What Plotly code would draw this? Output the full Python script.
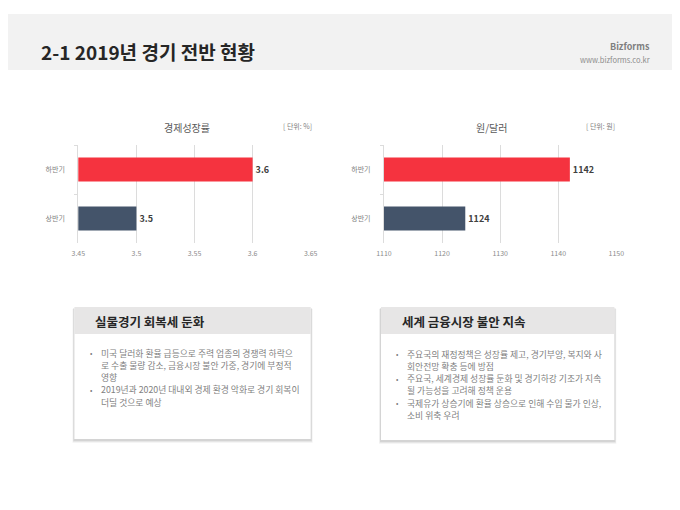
import plotly.graph_objects as go

W, H = 680, 510
FONT = "Noto Sans CJK KR"

# data
periods = ["상반기", "하반기"]
growth = [3.5, 3.6]
won_dollar = [1124, 1142]
bar_colors = ["#44546a", "#f5333f"]

growth_ticks = [3.45, 3.5, 3.55, 3.6, 3.65]
fx_ticks = [1110, 1120, 1130, 1140, 1150]

page_title = "2-1 2019년 경기 전반 현황"
chart_titles = ["경제성장률", "원/달러"]
chart_units = ["[ 단위: %]", "[ 단위: 원]"]

box_titles = ["실물경기 회복세 둔화", "세계 금융시장 불안 지속"]
box_bullets = [
    [
        ["미국 달러화 환율 급등으로 주력 업종의 경쟁력 하락으",
         "로 수출 물량 감소, 금융시장 불안 가중, 경기에 부정적",
         "영향"],
        ["2019년과 2020년 대내외 경제 환경 악화로 경기 회복이",
         "더딜 것으로 예상"],
    ],
    [
        ["주요국의 재정정책은 성장률 제고, 경기부양, 복지와 사",
         "회안전망 확충 등에 방점"],
        ["주요국, 세계경제 성장률 둔화 및 경기하강 기조가 지속",
         "될 가능성을 고려해 정책 운용"],
        ["국제유가 상승기에 환율 상승으로 인해 수입 물가 인상,",
         "소비 위축 우려"],
    ],
]


def px(x):
    return x / W


def py(y):
    return 1 - y / H


fig = go.Figure()

fig.add_trace(go.Bar(
    x=growth, y=periods, orientation="h", width=0.49,
    marker=dict(color=bar_colors, line=dict(width=0)),
    text=[str(v) for v in growth], textposition="outside",
    textfont=dict(family=FONT, size=9, color="#404040", weight="bold"),
    cliponaxis=False, xaxis="x", yaxis="y", hoverinfo="skip",
))
fig.add_trace(go.Bar(
    x=won_dollar, y=periods, orientation="h", width=0.49,
    marker=dict(color=bar_colors, line=dict(width=0)),
    text=[str(v) for v in won_dollar], textposition="outside",
    textfont=dict(family=FONT, size=9, color="#404040", weight="bold"),
    cliponaxis=False, xaxis="x2", yaxis="y2", hoverinfo="skip",
))

xcommon = dict(
    showgrid=True, gridcolor="#dcdcdc", gridwidth=1, zeroline=False,
    showline=False, ticks="", fixedrange=True, ticklabelstandoff=5,
    tickfont=dict(family=FONT, size=7, color="#8c8c8c"),
)
ycommon = dict(
    showgrid=False, zeroline=False, showline=True, linecolor="#dcdcdc",
    ticks="outside", tickson="boundaries", ticklen=3, tickcolor="#dcdcdc",
    ticklabelstandoff=11, fixedrange=True,
    categoryorder="array", categoryarray=periods,
    tickfont=dict(family=FONT, size=7, color="#7f7f7f"),
)

fig.update_layout(
    width=W, height=H, autosize=False,
    margin=dict(l=0, r=0, t=0, b=0),
    paper_bgcolor="white", plot_bgcolor="white",
    showlegend=False,
    font=dict(family=FONT),
    xaxis=dict(xcommon, domain=[px(72), px(310)], range=[3.45, 3.65],
               tickvals=growth_ticks, ticktext=[f"{t:g}" for t in growth_ticks],
               anchor="y"),
    yaxis=dict(ycommon, domain=[py(243), py(145)], anchor="x"),
    xaxis2=dict(xcommon, domain=[px(385), px(623)], range=[1110, 1150],
                tickvals=fx_ticks, anchor="y2"),
    yaxis2=dict(ycommon, domain=[py(243), py(145)], anchor="x2"),
)

shapes = [
    dict(type="rect", xref="paper", yref="paper", x0=0, x1=1,
         y0=py(70), y1=py(14), fillcolor="#f2f2f2", line=dict(width=0),
         layer="below"),
]
annotations = [
    dict(text=f"<b>{page_title}</b>", x=px(32), y=py(52), xanchor="left",
         font=dict(size=19, color="#262626")),
    dict(text="<b>Bizforms</b>", x=px(660), y=py(46), xanchor="right",
         font=dict(size=9, color="#7f7f7f")),
    dict(text="www.bizforms.co.kr", x=px(660), y=py(59), xanchor="right",
         font=dict(size=7.5, color="#8c8c8c")),
]

# chart titles and units
for title, unit, tx, ux in zip(chart_titles, chart_units, [183, 496], [296, 607]):
    annotations.append(dict(text=title, x=px(tx), y=py(127), xanchor="center",
                            font=dict(size=10, color="#595959")))
    annotations.append(dict(text=unit, x=px(ux), y=py(126), xanchor="center",
                            font=dict(size=7, color="#7f7f7f")))

# text boxes
boxes = [(68, 310, 307, 439), (382, 621, 307, 440)]
line_starts = [353, 354]
for (x0, x1, y0, y1), title, bullets, ly in zip(boxes, box_titles, box_bullets, line_starts):
    for off, alpha in [(4, 0.04), (3, 0.06), (2, 0.08)]:
        shapes.append(dict(type="rect", xref="paper", yref="paper",
                           x0=px(x0 - off / 2), x1=px(x1 + off / 2),
                           y0=py(y1 + off), y1=py(y0 + off / 2),
                           fillcolor=f"rgba(0,0,0,{alpha})", line=dict(width=0),
                           layer="below"))
    shapes.append(dict(type="rect", xref="paper", yref="paper",
                       x0=px(x0), x1=px(x1), y0=py(y1), y1=py(y0),
                       fillcolor="white", line=dict(width=0), layer="below"))
    shapes.append(dict(type="rect", xref="paper", yref="paper",
                       x0=px(x0), x1=px(x1), y0=py(334), y1=py(y0),
                       fillcolor="#e7e6e6", line=dict(width=0), layer="below"))
    annotations.append(dict(text=f"<b>{title}</b>", x=px(x0 + 19), y=py(321),
                            xanchor="left", font=dict(size=12.5, color="#262626")))
    y = ly
    for bullet in bullets:
        annotations.append(dict(text="•", x=px(x0 + 17), y=py(y),
                                xanchor="center",
                                font=dict(size=7, color="#7f7f7f")))
        for line in bullet:
            annotations.append(dict(text=line, x=px(x0 + 25), y=py(y),
                                    xanchor="left",
                                    font=dict(size=8.8, color="#7f7f7f")))
            y += 12.3

for a in annotations:
    a.update(xref="paper", yref="paper", showarrow=False, yanchor="middle")
    a.setdefault("font", {})
    a["font"].setdefault("family", FONT)

fig.update_layout(shapes=shapes, annotations=annotations)
fig.write_html(
    "out.html",
    config={"responsive": False, "displayModeBar": False, "staticPlot": True},
    post_script="document.body.style.margin='0';document.body.style.overflow='hidden';",
)
